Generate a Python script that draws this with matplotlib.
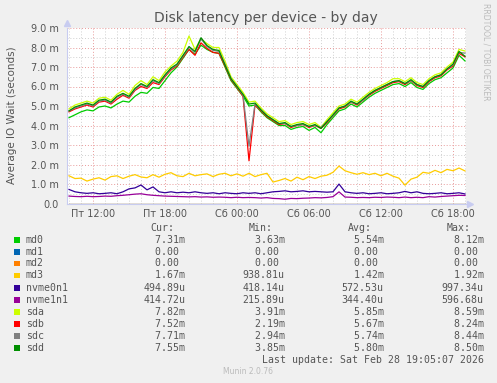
import matplotlib
matplotlib.use("Agg")
import matplotlib.pyplot as plt
import matplotlib.dates as mdates
from matplotlib.patches import Rectangle
import numpy as np
import pandas as pd

# samples every 30 min, values in milliseconds
times = pd.date_range("2026-02-27 10:00", periods=67, freq="30min")

md0 = [4.4, 4.55, 4.7, 4.8, 4.75, 4.95, 5.0, 4.9, 5.1, 5.25, 5.2, 5.5,
       5.7, 5.65, 5.95, 5.9, 6.3, 6.7, 7.0, 7.45, 7.9, 7.65, 8.12, 7.9,
       7.75, 7.7, 7.0, 6.3, 5.9, 5.5, 5.0, 5.05, 4.7, 4.4, 4.2, 4.0,
       4.0, 3.8, 3.9, 3.95, 3.75, 3.9, 3.63, 4.05, 4.4, 4.75, 4.85, 5.1,
       4.95, 5.2, 5.45, 5.65, 5.8, 5.95, 6.1, 6.15, 6.0, 6.2, 5.95, 5.85,
       6.15, 6.35, 6.45, 6.7, 6.95, 7.6, 7.31]
md1 = [0.0] * 67
md2 = [0.0] * 67
md3 = [1.42, 1.28, 1.3, 1.15, 1.25, 1.32, 1.2, 1.38, 1.42, 1.28, 1.4, 1.48,
       1.36, 1.32, 1.48, 1.35, 1.5, 1.58, 1.42, 1.38, 1.55, 1.42, 1.48, 1.52,
       1.38, 1.5, 1.55, 1.42, 1.52, 1.4, 1.55, 1.38, 1.48, 1.55, 1.1, 1.18,
       1.28, 1.15, 1.35, 1.22, 1.38, 1.28, 1.4, 1.45, 1.6, 1.92, 1.68, 1.58,
       1.5, 1.58, 1.48, 1.55, 1.42, 1.55, 1.4, 1.3, 0.94, 1.25, 1.35, 1.6,
       1.55, 1.7, 1.58, 1.75, 1.68, 1.82, 1.67]
nvme0n1 = [0.72, 0.6, 0.55, 0.52, 0.55, 0.5, 0.52, 0.55, 0.5, 0.6, 0.75, 0.8,
           0.95, 0.7, 0.85, 0.6, 0.55, 0.6, 0.55, 0.58, 0.55, 0.6, 0.55, 0.52,
           0.55, 0.5, 0.55, 0.52, 0.5, 0.55, 0.52, 0.55, 0.5, 0.55, 0.6, 0.62,
           0.65, 0.6, 0.62, 0.65, 0.6, 0.62, 0.6, 0.58, 0.6, 0.997, 0.6, 0.55,
           0.52, 0.55, 0.5, 0.52, 0.55, 0.5, 0.52, 0.55, 0.62, 0.55, 0.6, 0.52,
           0.5, 0.52, 0.55, 0.5, 0.52, 0.55, 0.49]
nvme1n1 = [0.38, 0.36, 0.35, 0.37, 0.35, 0.36, 0.38, 0.37, 0.4, 0.42, 0.45, 0.48,
           0.5, 0.45, 0.42, 0.4, 0.38, 0.37, 0.36, 0.35, 0.34, 0.35, 0.33, 0.34,
           0.32, 0.33, 0.32, 0.3, 0.32, 0.3, 0.31, 0.3, 0.28, 0.3, 0.26, 0.25,
           0.22, 0.26, 0.25, 0.27, 0.28, 0.3, 0.29, 0.31, 0.35, 0.597, 0.33, 0.32,
           0.3, 0.31, 0.3, 0.32, 0.31, 0.33, 0.32, 0.3, 0.33, 0.3, 0.32, 0.3,
           0.35, 0.33, 0.36, 0.38, 0.4, 0.42, 0.41]
sda = [4.85, 5.05, 5.15, 5.25, 5.15, 5.4, 5.45, 5.3, 5.6, 5.8, 5.6, 6.05,
       6.3, 6.1, 6.5, 6.3, 6.75, 7.05, 7.3, 7.75, 8.59, 7.9, 8.45, 8.2,
       8.0, 8.0, 7.3, 6.5, 6.1, 5.7, 5.2, 5.25, 4.9, 4.6, 4.4, 4.2,
       4.25, 4.05, 4.15, 4.2, 4.05, 4.15, 3.91, 4.3, 4.65, 5.0, 5.1, 5.35,
       5.2, 5.45, 5.7, 5.9, 6.05, 6.2, 6.4, 6.4, 6.25, 6.45, 6.2, 6.1,
       6.4, 6.6, 6.7, 7.0, 7.25, 7.9, 7.82]
sdb = [4.7, 4.85, 4.95, 5.05, 4.95, 5.2, 5.25, 5.1, 5.35, 5.55, 5.4, 5.8,
       6.0, 5.9, 6.2, 6.1, 6.5, 6.85, 7.05, 7.5, 7.9, 7.6, 8.24, 7.95,
       7.75, 7.7, 7.05, 6.35, 5.95, 5.5, 2.19, 5.05, 4.75, 4.45, 4.25, 4.05,
       4.1, 3.9, 4.0, 4.05, 3.9, 4.0, 3.85, 4.15, 4.5, 4.85, 4.95, 5.2,
       5.05, 5.3, 5.55, 5.75, 5.9, 6.05, 6.2, 6.25, 6.1, 6.3, 6.05, 5.95,
       6.25, 6.45, 6.55, 6.85, 7.05, 7.7, 7.52]
sdc = [4.75, 4.9, 5.0, 5.1, 5.0, 5.25, 5.3, 5.15, 5.45, 5.6, 5.45, 5.85,
       6.1, 5.95, 6.3, 6.15, 6.55, 6.9, 7.1, 7.55, 8.0, 7.75, 8.44, 8.05,
       7.85, 7.8, 7.15, 6.4, 6.0, 5.55, 2.94, 5.1, 4.8, 4.5, 4.3, 4.1,
       4.1, 3.95, 4.0, 4.05, 3.95, 4.0, 3.9, 4.2, 4.5, 4.9, 5.0, 5.2,
       5.1, 5.3, 5.6, 5.8, 5.95, 6.1, 6.25, 6.3, 6.15, 6.3, 6.1, 6.0,
       6.3, 6.5, 6.6, 6.9, 7.1, 7.75, 7.71]
sdd = [4.75, 4.95, 5.05, 5.15, 5.05, 5.3, 5.35, 5.2, 5.5, 5.65, 5.5, 5.9,
       6.15, 6.0, 6.35, 6.2, 6.6, 6.95, 7.15, 7.6, 8.05, 7.8, 8.5, 8.1,
       7.9, 7.85, 7.1, 6.4, 6.0, 5.6, 5.1, 5.15, 4.8, 4.5, 4.3, 4.1,
       4.15, 3.95, 4.05, 4.1, 3.95, 4.05, 3.85, 4.2, 4.55, 4.9, 5.0, 5.25,
       5.1, 5.35, 5.6, 5.8, 5.95, 6.1, 6.25, 6.3, 6.15, 6.35, 6.1, 6.0,
       6.3, 6.5, 6.6, 6.9, 7.15, 7.8, 7.55]

names = ["md0", "md1", "md2", "md3", "nvme0n1", "nvme1n1", "sda", "sdb", "sdc", "sdd"]
series = [md0, md1, md2, md3, nvme0n1, nvme1n1, sda, sdb, sdc, sdd]
colors = ["#00CC00", "#0066B3", "#FF8000", "#FFCC00", "#330099",
          "#990099", "#CCFF00", "#FF0000", "#808080", "#008F00"]

cur = ["  7.31m", "  0.00 ", "  0.00 ", "  1.67m", "494.89u", "414.72u", "  7.82m", "  7.52m", "  7.71m", "  7.55m"]
mins = ["  3.63m", "  0.00 ", "  0.00 ", "938.81u", "418.14u", "215.89u", "  3.91m", "  2.19m", "  2.94m", "  3.85m"]
avgs = ["  5.54m", "  0.00 ", "  0.00 ", "  1.42m", "572.53u", "344.40u", "  5.85m", "  5.67m", "  5.74m", "  5.80m"]
maxs = ["  8.12m", "  0.00 ", "  0.00 ", "  1.92m", "997.34u", "596.68u", "  8.59m", "  8.24m", "  8.44m", "  8.50m"]

yticks = [0, 1, 2, 3, 4, 5, 6, 7, 8, 9]

W, H = 497, 383
fig = plt.figure(figsize=(W / 100, H / 100), dpi=100, facecolor="#F0F0F0")

def fx(px):
    return px / W

def fy(py):
    return 1 - py / H

ax = fig.add_axes([fx(67), fy(203.5), fx(466) - fx(67), fy(28) - fy(203.5)])
ax.set_facecolor("white")

for s, c in zip(series, colors):
    ax.plot(times, s, color=c, lw=0.9)

ax.set_xlim(pd.Timestamp("2026-02-27 09:50"), pd.Timestamp("2026-02-28 19:05"))
ax.set_ylim(0, 9.0)

days = {4: "Пт", 5: "Сб"}
def xfmt(v, pos):
    d = mdates.num2date(v)
    return "%s %02d:%02d" % (days.get(d.weekday(), ""), d.hour, d.minute)

ax.xaxis.set_major_locator(mdates.HourLocator(byhour=[0, 6, 12, 18]))
ax.xaxis.set_minor_locator(mdates.HourLocator(interval=1))
ax.xaxis.set_major_formatter(plt.FuncFormatter(xfmt))
ax.set_yticks(yticks)
ax.set_yticks(np.arange(0.5, 9.0, 1.0), minor=True)
ax.set_yticklabels(["0.0"] + ["%.1f m" % v for v in yticks[1:]])

ax.grid(which="minor", color="#D0D0D0", ls=(0, (1, 2)), lw=0.7)
ax.grid(which="major", color="#E89A9A", ls=(0, (1, 2)), lw=0.7)
ax.set_axisbelow(True)

for sp in ["top", "right"]:
    ax.spines[sp].set_visible(False)
for sp in ["left", "bottom"]:
    ax.spines[sp].set_color("#C8CCF0")
    ax.spines[sp].set_linewidth(0.8)
ax.tick_params(which="both", length=0, colors="#555555", labelsize=7)
ax.tick_params(axis="y", pad=6)
ax.tick_params(axis="x", pad=4)
ax.plot(1.01, 0, ">", color="#C8CCF0", ms=4, transform=ax.transAxes, clip_on=False)
ax.plot(0, 1.03, "^", color="#C8CCF0", ms=4, transform=ax.transAxes, clip_on=False)

fig.text(fx(266), fy(18), "Disk latency per device - by day", ha="center", va="center",
         fontsize=10, color="#555555")
fig.text(fx(12), fy(115), "Average IO Wait (seconds)", rotation=90, ha="center", va="center",
         fontsize=7.5, color="#555555")
fig.text(fx(486), fy(52), "RRDTOOL / TOBI OETIKER", rotation=270, ha="center", va="center",
         fontsize=5.5, color="#BBBBBB")

mono = dict(family="DejaVu Sans Mono", fontsize=7.15, color="#555555", va="center")
fig.text(fx(150), fy(228), "Cur:", ha="left", **mono)
fig.text(fx(248.3), fy(228), "Min:", ha="left", **mono)
fig.text(fx(347.7), fy(228), "Avg:", ha="left", **mono)
fig.text(fx(446.7), fy(228), "Max:", ha="left", **mono)

row_y = [240, 251.7, 263.5, 275.5, 287.7, 299.7, 311.7, 323.7, 335.7, 347.7]
for i, n in enumerate(names):
    y = row_y[i]
    fig.patches.append(Rectangle((fx(14), fy(y + 2.8)), fx(5.6), 5.6 / H,
                                 transform=fig.transFigure, facecolor=colors[i],
                                 edgecolor="none"))
    fig.text(fx(26), fy(y), n, ha="left", **mono)
    fig.text(fx(143.3), fy(y), cur[i], ha="left", **mono)
    fig.text(fx(242.7), fy(y), mins[i], ha="left", **mono)
    fig.text(fx(341.7), fy(y), avgs[i], ha="left", **mono)
    fig.text(fx(441.7), fy(y), maxs[i], ha="left", **mono)

fig.text(fx(261.7), fy(360), "Last update: Sat Feb 28 19:05:07 2026", ha="left", **mono)
fig.text(fx(248), fy(372), "Munin 2.0.76", ha="center", va="center", fontsize=5.5, color="#BBBBBB")

fig.savefig("out.png", dpi=100, facecolor=fig.get_facecolor())
